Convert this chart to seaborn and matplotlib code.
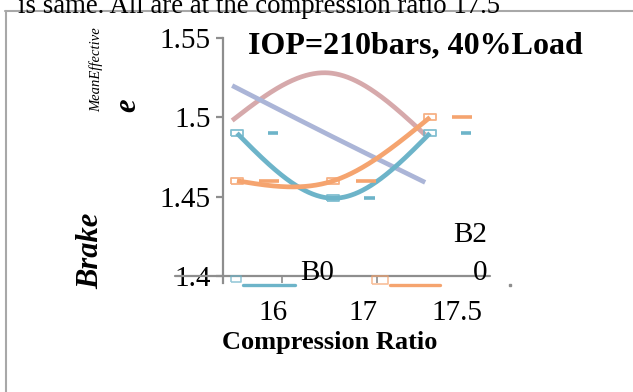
import numpy as np
import pandas as pd
import seaborn as sns
import matplotlib
matplotlib.use("Agg")
import matplotlib.pyplot as plt
from matplotlib.lines import Line2D
from matplotlib.path import Path

# ---- data -------------------------------------------------------------
categories = ["16", "17", "17.5"]
b0_values = [1.49, 1.449, 1.49]
b20_values = [1.46, 1.46, 1.50]
rose_values = [1.498, 1.528, 1.489]
lavender_values = [1.52, 1.489, 1.459]
y_ticks = [1.40, 1.45, 1.50, 1.55]
y_tick_labels = ["1.4", "1.45", "1.5", "1.55"]

# ---- style ------------------------------------------------------------
sns.set_theme(style="white")
plt.rcParams["font.family"] = ["Liberation Serif", "DejaVu Serif"]
plt.rcParams["text.color"] = "black"
plt.rcParams["axes.labelcolor"] = "black"
plt.rcParams["xtick.color"] = "black"
plt.rcParams["ytick.color"] = "black"

BLUE = "#6db4c9"
ORANGE = "#f5a46f"
ROSE = "#d6a9ab"
LAVENDER = "#abb5d7"
GREY = "#8e8e8e"

W, H = 633, 392
fig = plt.figure(figsize=(W / 100, H / 100), dpi=100)


def fx(x):
    return x / W


def fy(y):
    return 1 - y / H


def natural_spline(vals, n=200):
    """Smooth curve through evenly spaced points (natural cubic spline)."""
    y = np.asarray(vals, float)
    k = len(y)
    A = np.zeros((k, k))
    r = np.zeros(k)
    A[0, 0] = A[-1, -1] = 1
    for i in range(1, k - 1):
        A[i, i - 1:i + 2] = [1, 4, 1]
        r[i] = 6 * (y[i - 1] - 2 * y[i] + y[i + 1])
    M = np.linalg.solve(A, r)
    xs, ys = [], []
    for i in range(k - 1):
        t = np.linspace(0, 1, n)
        s = (M[i] * (1 - t) ** 3 / 6 + M[i + 1] * t ** 3 / 6
             + (y[i] - M[i] / 6) * (1 - t) + (y[i + 1] - M[i + 1] / 6) * t)
        xs.append(i + t)
        ys.append(s)
    return np.concatenate(xs), np.concatenate(ys)


# ---- axes -------------------------------------------------------------
ax = fig.add_axes([fx(223), fy(276), (490 - 223) / W, (276 - 38) / H])
ax.set_xlim(-0.145, 2.622)
ax.set_ylim(1.40, 1.55)
ax.patch.set_alpha(0)

series = [
    ("rose", rose_values, ROSE),
    ("lavender", lavender_values, LAVENDER),
    ("B0", b0_values, BLUE),
    ("B20", b20_values, ORANGE),
]
frames = []
for name, vals, _ in series:
    xs, ys = natural_spline(vals)
    # the two unmarked curves sit a touch left of the marked ones
    shift = -0.05 if name in ("rose", "lavender") else 0.0
    frames.append(pd.DataFrame({"x": xs + shift, "y": ys, "series": name}))
curves = pd.concat(frames, ignore_index=True)
sns.lineplot(data=curves, x="x", y="y", hue="series",
             palette={n: c for n, _, c in series}, lw=3.4,
             legend=False, sort=False, estimator=None, ax=ax,
             solid_capstyle="butt")

# hollow bar-shaped point markers
rect = Path([(-1, -0.55), (1, -0.55), (1, 0.55), (-1, 0.55), (-1, -0.55)])
pos = np.arange(len(categories))
for vals, c in [(b0_values, BLUE), (b20_values, ORANGE)]:
    ax.plot(pos, vals, ls="none", marker=rect, markersize=8.5,
            mfc="none", mec=c, mew=1.3, alpha=0.85, zorder=4)

# short offset dashes beside each point
for p, v in zip(pos, b0_values):
    ax.hlines(v, p + 0.32, p + 0.43, color=BLUE, lw=2.6, zorder=3)
for p, v in zip(pos, b20_values):
    ax.hlines(v, p + 0.23, p + 0.44, color=ORANGE, lw=2.6, zorder=3)

# axis lines
for s in ["top", "right", "bottom"]:
    ax.spines[s].set_visible(False)
ax.spines["left"].set_color(GREY)
ax.spines["left"].set_linewidth(1.6)
ax.spines["left"].set_bounds(1.3955, 1.55)
ax.plot([-0.18, 1.0], [0, 0], transform=ax.transAxes, color=GREY,
        lw=1.6, clip_on=False, zorder=6)

ax.set_yticks(y_ticks)
ax.set_yticklabels(y_tick_labels)
ax.tick_params(axis="y", length=5, width=1.6, color=GREY, pad=4,
               labelsize=21, left=True, labelcolor="black")

ax.set_xticks([0.373, 1.306, 2.28])
ax.set_xticklabels(categories)
ax.set_xticks([0.466, 1.45], minor=True)
ax.tick_params(axis="x", which="major", length=0, pad=17, labelsize=21,
               bottom=True, labelcolor="black")
ax.tick_params(axis="x", which="minor", length=5, width=1.2, color=GREY,
               bottom=True, direction="out")
ax.set_xlabel("")
ax.set_ylabel("")

# ---- texts ------------------------------------------------------------
fig.text(fx(415), fy(46), "IOP=210bars, 40%Load", ha="center", va="center",
         fontsize=23, fontweight="bold")
fig.text(fx(330), fy(343), "Compression Ratio", ha="center", va="center",
         fontsize=19, fontweight="bold")
fig.text(fx(91), fy(251), "Brake", rotation=90, ha="center", va="center",
         fontsize=22, fontweight="bold", fontstyle="italic")
fig.text(fx(128), fy(105), "e", rotation=90, ha="center", va="center",
         fontsize=22, fontweight="bold", fontstyle="italic")
fig.text(fx(96), fy(70), "MeanEffective", rotation=90, ha="center",
         va="center", fontsize=10.5, fontstyle="italic")
fig.text(fx(18), fy(13), "is same. All are at the compression ratio 17.5",
         ha="left", va="baseline", fontsize=19.3)

# series key below the axis
fig.add_artist(Line2D([fx(236)], [fy(279)], marker=rect, markersize=7,
                      mfc="none", mec=BLUE, mew=1.2, alpha=0.7))
fig.add_artist(Line2D([fx(243), fx(295)], [fy(285), fy(285)], color=BLUE,
                      lw=2.4))
fig.add_artist(Line2D([fx(380)], [fy(280)], marker=rect, markersize=11,
                      mfc="none", mec=ORANGE, mew=1.2, alpha=0.7))
fig.add_artist(Line2D([fx(390), fx(440)], [fy(285), fy(285)], color=ORANGE,
                      lw=2.4))
fig.text(fx(317), fy(273), "B0", ha="center", va="center", fontsize=21)
fig.text(fx(487), fy(235), "B2", ha="right", va="center", fontsize=21)
fig.text(fx(487), fy(273), "0", ha="right", va="center", fontsize=21)
fig.add_artist(Line2D([fx(510)], [fy(285)], marker="s", markersize=2,
                      color=GREY, ls="none"))

# outer frame
fig.add_artist(Line2D([fx(5), fx(633)], [fy(11), fy(11)], color="#a8a8a8",
                      lw=1.5))
fig.add_artist(Line2D([fx(6), fx(6)], [fy(11), fy(392)], color="#a8a8a8",
                      lw=1.5))

fig.savefig("out.png", dpi=100, facecolor="white")
